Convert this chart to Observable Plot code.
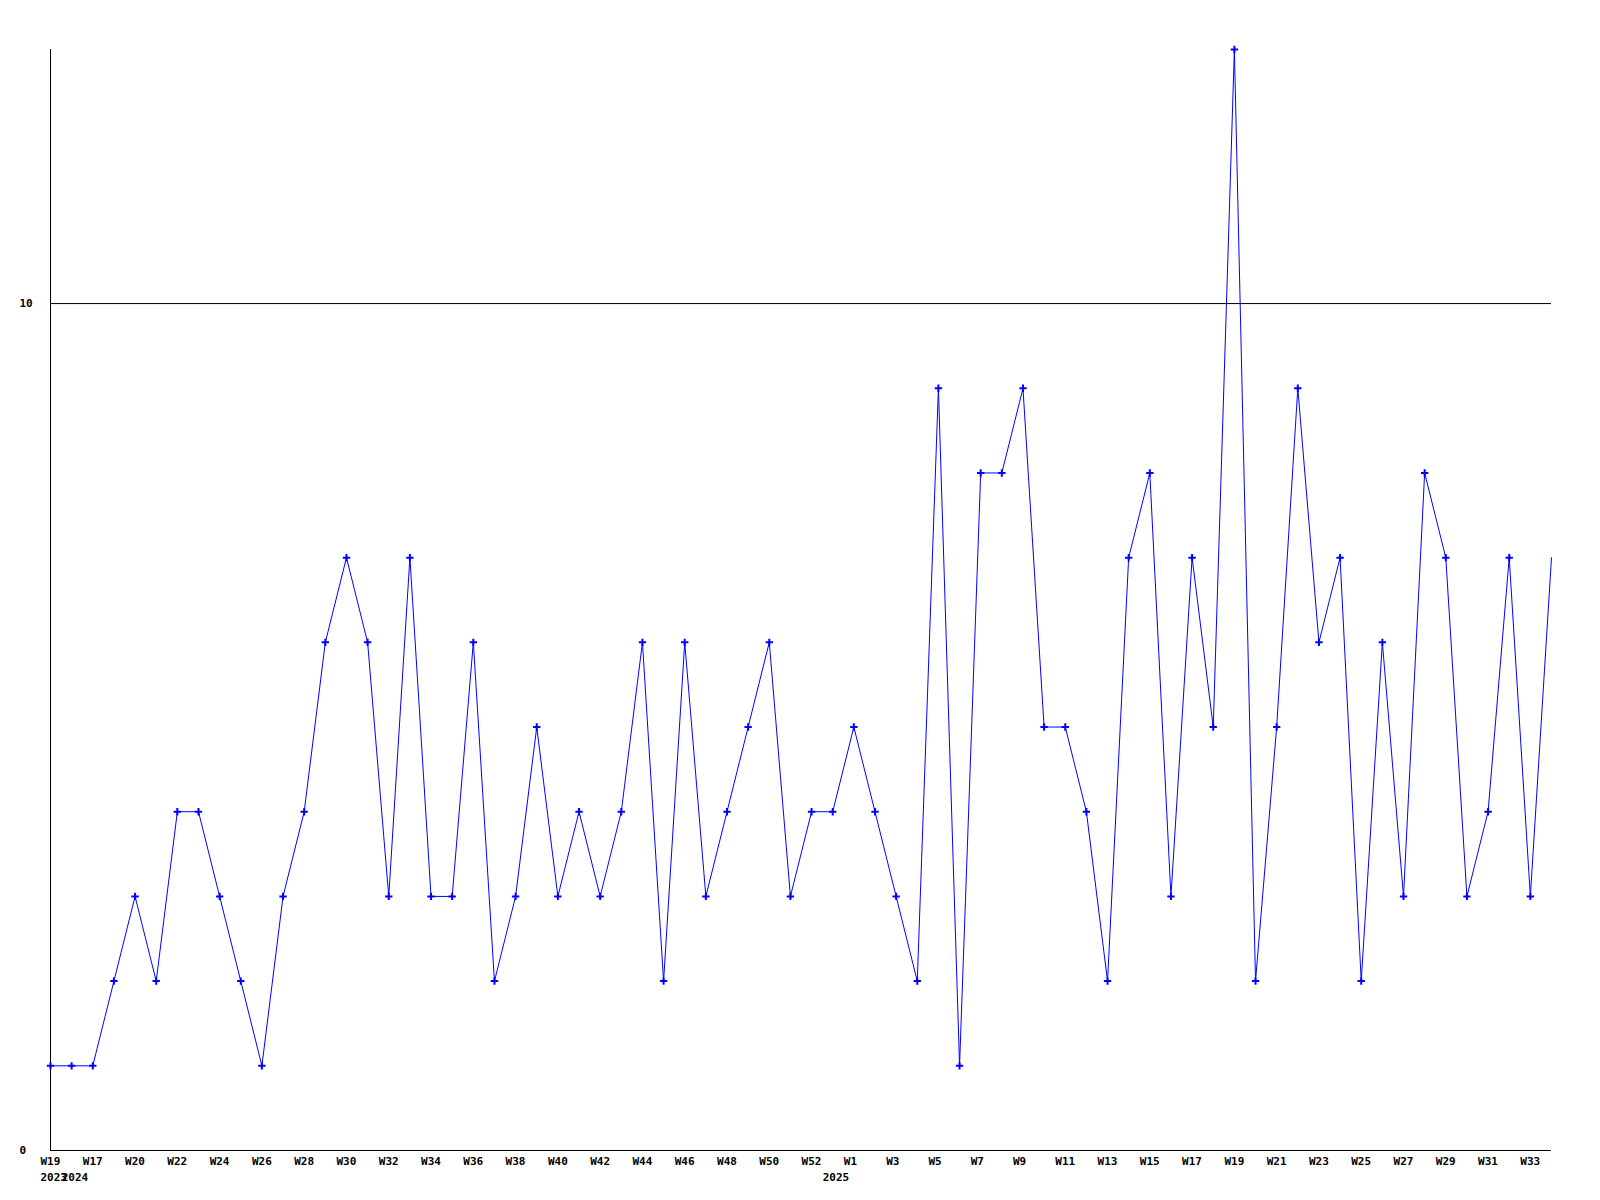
<!DOCTYPE html>
<html>
<head>
<meta charset="utf-8">
<script src="https://cdn.jsdelivr.net/npm/d3@7"></script>
<script src="https://cdn.jsdelivr.net/npm/@observablehq/plot@0.6"></script>
<style>
  html, body { margin: 0; padding: 0; background: #fff; }
  #chart svg { display: block; }
</style>
</head>
<body>
<div id="chart"></div>
<script>
// Week labels (one per point)
const weeks = [
  "W19","W16","W17","W19",
  "W20","W21","W22","W23","W24","W25","W26","W27","W28","W29","W30","W31","W32","W33","W34","W35","W36",
  "W37","W38","W39","W40","W41","W42","W43","W44","W45","W46","W47","W48","W49","W50","W51","W52",
  "W0",
  "W1","W2","W3","W4","W5","W6","W7","W8","W9","W10","W11","W12","W13","W14","W15","W16","W17",
  "W18","W19","W20","W21","W22","W23","W24","W25","W26","W27","W28","W29","W30","W31","W32","W33","W34"
];
// Year of each point
const years = [
  2023,
  2024,2024,2024,2024,2024,2024,2024,2024,2024,2024,2024,2024,2024,2024,2024,2024,2024,2024,
  2024,2024,2024,2024,2024,2024,2024,2024,2024,2024,2024,2024,2024,2024,2024,2024,2024,2024,
  2025,2025,2025,2025,2025,2025,2025,2025,2025,2025,2025,2025,2025,2025,2025,2025,2025,2025,
  2025,2025,2025,2025,2025,2025,2025,2025,2025,2025,2025,2025,2025,2025,2025,2025,2025
];
// Counts per week
const counts = [
  1,1,1,2,3,2,4,4,3,2,
  1,3,4,6,7,6,3,7,3,3,
  6,2,3,5,3,4,3,4,6,2,
  6,3,4,5,6,3,4,4,5,4,
  3,2,9,1,8,8,9,5,5,4,
  2,7,8,3,7,5,13,2,5,9,
  6,7,2,6,3,8,7,3,4,7,
  3,7
];
const yTicks = [0, 10];

const data = counts.map((v, i) => ({
  key: years[i] + "-" + weeks[i],
  week: weeks[i],
  year: years[i],
  value: v,
  i
}));
const keys = data.map(d => d.key);
const weekTicks = data.filter(d => d.i % 2 === 0);
const yearTicks = data.filter((d, i) => i === 0 || d.year !== data[i - 1].year);

const font = "'DejaVu Sans Mono', monospace";

const chart = Plot.plot({
  width: 1600,
  height: 1200,
  marginLeft: 50,
  marginRight: 49,
  marginTop: 49,
  marginBottom: 50,
  style: { fontFamily: font, fontSize: "11px", fontWeight: "bold", background: "#fff", overflow: "visible" },
  x: { type: "point", domain: keys, padding: 0, round: false, axis: null },
  y: { domain: [0, 13], axis: null },
  marks: [
    Plot.ruleY([10], { stroke: "#000", strokeWidth: 1 }),
    Plot.ruleY([0], { stroke: "#000", strokeWidth: 1 }),
    Plot.ruleX([keys[0]], { y1: 0, y2: 13, stroke: "#000", strokeWidth: 1 }),
    Plot.line(data, { x: "key", y: "value", stroke: "#0000ff", strokeWidth: 1 }),
    Plot.dot(data.slice(0, -1), { x: "key", y: "value", symbol: "plus", r: 2.5, stroke: "#0000ff", strokeWidth: 2 }),
    Plot.text(yTicks, { y: d => d, text: d => String(d), frameAnchor: "left", dx: -31, textAnchor: "start", fill: "#000" }),
    Plot.text(weekTicks, { x: "key", text: "week", frameAnchor: "bottom", dy: 14, dx: -10, textAnchor: "start", fill: "#000" }),
    Plot.text(yearTicks, { x: "key", text: d => String(d.year), frameAnchor: "bottom", dy: 30, dx: -10, textAnchor: "start", fill: "#000" })
  ]
});
document.getElementById("chart").appendChild(chart);
</script>
</body>
</html>
